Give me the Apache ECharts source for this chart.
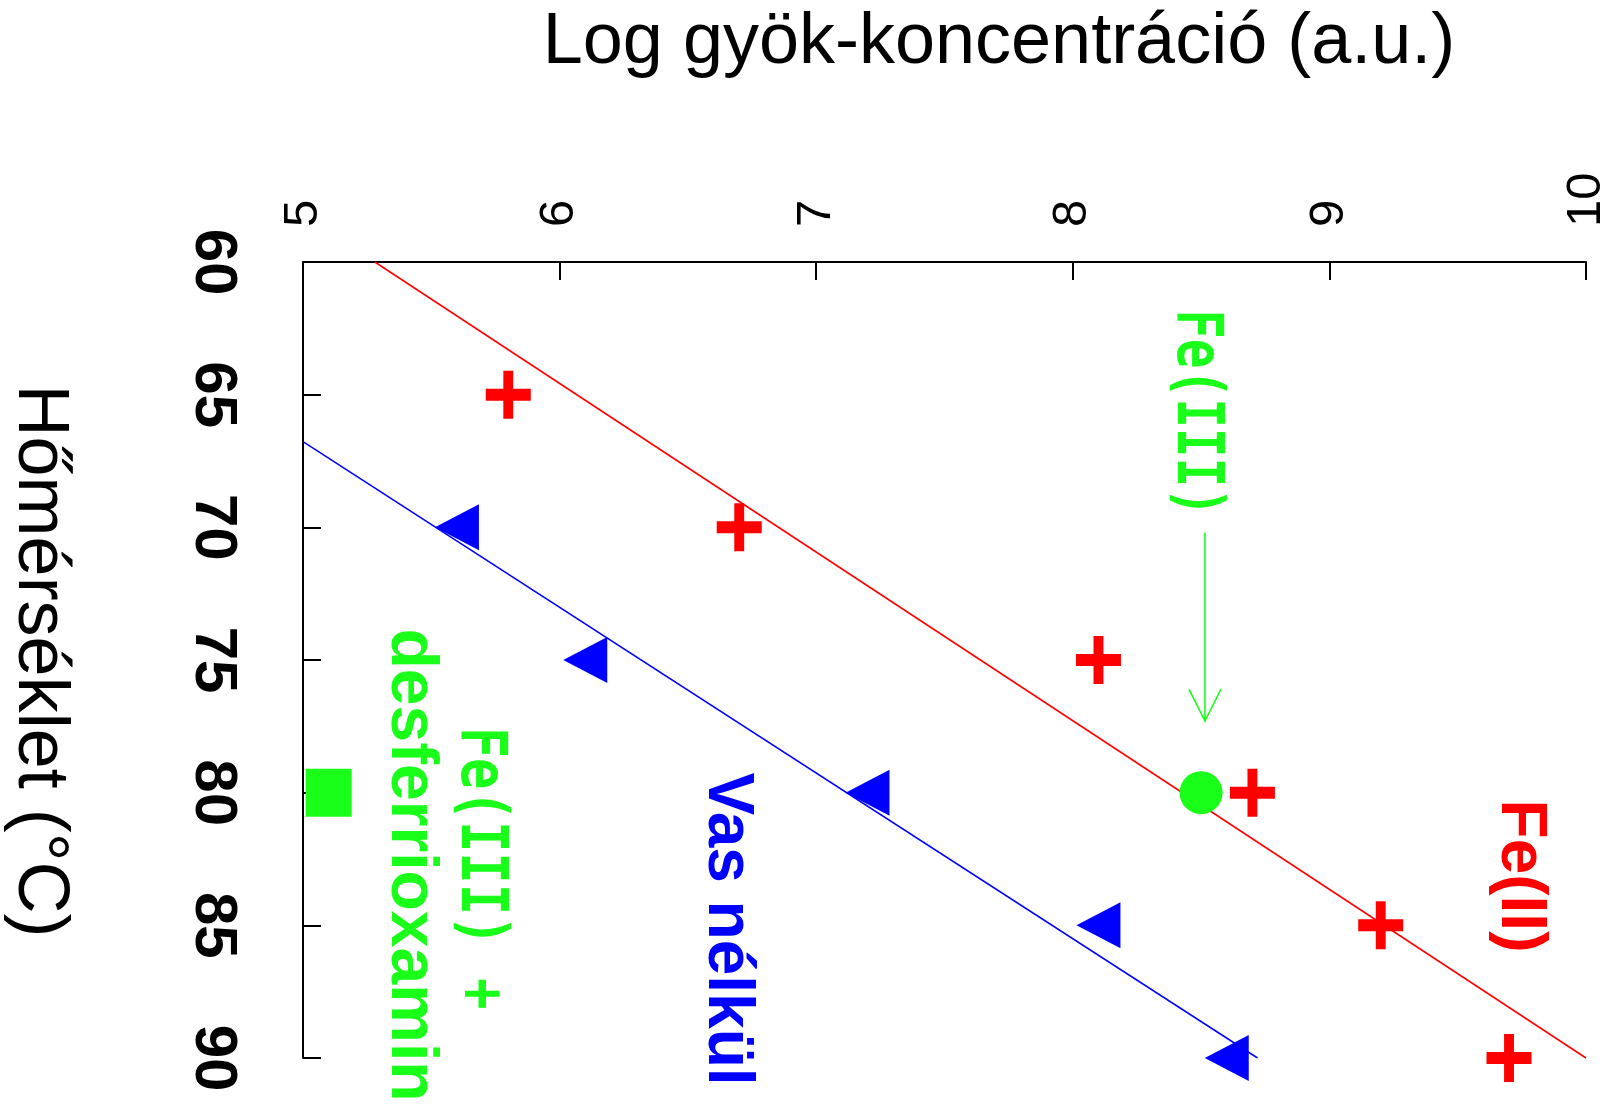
<!DOCTYPE html>
<html>
<head>
<meta charset="utf-8">
<script src="https://cdn.jsdelivr.net/npm/echarts@6/dist/echarts.min.js"></script>
<style>
html,body{margin:0;padding:0;background:#ffffff;}
#c{width:1611px;height:1113px;}
</style>
</head>
<body>
<div id="c"></div>
<script>
// ---- data ----
const logTicks = [5, 6, 7, 8, 9, 10];                 // top axis: Log gyök-koncentráció
const tempTicks = [60, 65, 70, 75, 80, 85, 90];       // left axis: Hőmérséklet (°C)

const fe2Temp = [65, 70, 75, 80, 85, 90];             // Fe(II) points (red crosses)
const fe2Log  = [5.80, 6.70, 8.10, 8.70, 9.20, 9.70];

const vasTemp = [70, 75, 80, 85, 90];                 // Vas nélkül (blue triangles)
const vasLog  = [5.60, 6.10, 7.20, 8.10, 8.60];

const fe3Temp = [80];                                 // Fe(III) (green circle)
const fe3Log  = [8.50];

const desTemp = [80];                                 // Fe(III) + desferrioxamin (green square)
const desLog  = [5.10];

const fe2FitTemp = [60, 90];                          // red fit line
const fe2FitLog  = [5.28, 10.0];

const vasFitTemp = [66.77, 90];                       // blue fit line
const vasFitLog  = [5.0, 8.72];

const arrowTemp = [70.2, 77.3];                       // annotation arrow for Fe(III)
const arrowLog  = [8.515, 8.515];

// ---- helpers ----
const zip = (xs, ys) => xs.map((x, i) => [x, ys[i]]);
const RED = '#ff0000', BLUE = '#0000ff', GREEN = '#19ff19';
const plusPath = 'path://M39,0H61V37.5H100V62.5H61V100H39V62.5H0V37.5H39Z';
const ROT = -Math.PI / 2;

const chart = echarts.init(document.getElementById('c'), null, {renderer: 'canvas'});

const option = {
  animation: false,
  backgroundColor: '#ffffff',
  grid: {left: 303, top: 262, width: 1283, height: 796, containLabel: false},
  xAxis: {
    type: 'value',
    position: 'top',
    min: logTicks[0],
    max: logTicks[logTicks.length - 1],
    interval: logTicks[1] - logTicks[0],
    axisLine: {show: true, onZero: false, lineStyle: {color: '#000', width: 2}},
    axisTick: {show: true, inside: true, length: 18, lineStyle: {color: '#000', width: 2}},
    axisLabel: {
      show: true, rotate: -90, margin: 35, padding: [14, 0, 0, 0],
      fontSize: 49, fontFamily: 'Liberation Sans', color: '#000',
      showMinLabel: true, showMaxLabel: true
    },
    splitLine: {show: false}
  },
  yAxis: {
    type: 'value',
    inverse: true,
    min: tempTicks[0],
    max: tempTicks[tempTicks.length - 1],
    interval: tempTicks[1] - tempTicks[0],
    axisLine: {show: true, onZero: false, lineStyle: {color: '#000', width: 2}},
    axisTick: {show: true, inside: true, length: 18, lineStyle: {color: '#000', width: 2}},
    axisLabel: {
      show: true, rotate: -90, margin: 60,
      fontSize: 60, fontWeight: 'bold', fontFamily: 'Liberation Sans', color: '#000',
      showMinLabel: true, showMaxLabel: true
    },
    splitLine: {show: false}
  },
  series: [
    {
      name: 'Fe(II) fit', type: 'line', data: zip(fe2FitLog, fe2FitTemp),
      symbol: 'none', lineStyle: {color: RED, width: 1.5}, z: 2, silent: true
    },
    {
      name: 'Vas nélkül fit', type: 'line', data: zip(vasFitLog, vasFitTemp),
      symbol: 'none', lineStyle: {color: BLUE, width: 1.5}, z: 2, silent: true
    },
    {
      name: 'arrow', type: 'custom', z: 3, silent: true,
      data: [[arrowLog[0], arrowTemp[0], arrowLog[1], arrowTemp[1]]],
      encode: {x: [0, 2], y: [1, 3]},
      renderItem: function (params, api) {
        const p0 = api.coord([api.value(0), api.value(1)]);
        const p1 = api.coord([api.value(2), api.value(3)]);
        const ang = Math.atan2(p1[1] - p0[1], p1[0] - p0[0]);
        const L = 32, W = 16;
        const bx = p1[0] - L * Math.cos(ang), by = p1[1] - L * Math.sin(ang);
        const nx = -Math.sin(ang) * W, ny = Math.cos(ang) * W;
        return {
          type: 'group',
          children: [
            {type: 'line', shape: {x1: p0[0], y1: p0[1], x2: p1[0], y2: p1[1]},
             style: {stroke: GREEN, lineWidth: 1.6}},
            {type: 'polyline', shape: {points: [[bx + nx, by + ny], [p1[0], p1[1]], [bx - nx, by - ny]]},
             style: {stroke: GREEN, lineWidth: 1.6, fill: null}}
          ]
        };
      }
    },
    {
      name: 'Vas nélkül', type: 'scatter', data: zip(vasLog, vasTemp),
      symbol: 'triangle', symbolSize: [46, 44], symbolRotate: 90,
      itemStyle: {color: BLUE, opacity: 1}, z: 4
    },
    {
      name: 'Fe(II)', type: 'scatter', data: zip(fe2Log, fe2Temp),
      symbol: plusPath, symbolSize: [45, 48],
      itemStyle: {color: RED, opacity: 1}, z: 4
    },
    {
      name: 'Fe(III)', type: 'scatter', data: zip(fe3Log, fe3Temp),
      symbol: 'circle', symbolSize: 43,
      itemStyle: {color: GREEN, opacity: 1}, z: 5
    },
    {
      name: 'Fe(III) + desferrioxamin', type: 'scatter', data: zip(desLog, desTemp),
      symbol: 'rect', symbolSize: [46, 48],
      itemStyle: {color: GREEN, opacity: 1}, z: 4
    }
  ],
  graphic: [
    {type: 'text', x: 999, y: 43, silent: true,
     style: {text: 'Log gyök-koncentráció (a.u.)', fontSize: 72, fontFamily: 'Liberation Sans',
             fill: '#000', align: 'center', verticalAlign: 'middle'}},
    {type: 'text', x: 39, y: 661, rotation: ROT, silent: true,
     style: {text: 'Hőmérséklet (°C)', fontSize: 72, fontFamily: 'Liberation Sans',
             fill: '#000', align: 'center', verticalAlign: 'middle'}},
    {type: 'text', x: 1520, y: 876, rotation: ROT, silent: true,
     style: {text: 'Fe(II)', fontSize: 64, fontWeight: 'bold', fontFamily: 'Liberation Sans',
             fill: RED, align: 'center', verticalAlign: 'middle'}},
    {type: 'text', x: 727, y: 929, rotation: ROT, silent: true,
     style: {text: 'Vas nélkül', fontSize: 64, fontWeight: 'bold', fontFamily: 'Liberation Sans',
             fill: BLUE, align: 'center', verticalAlign: 'middle'}},
    {type: 'text', x: 1195, y: 413, rotation: ROT, scaleX: 0.77, silent: true,
     style: {text: 'Fe(III)', fontSize: 64, fontWeight: 'bold', fontFamily: 'DejaVu Sans Mono',
             fill: GREEN, align: 'center', verticalAlign: 'middle'}},
    {type: 'text', x: 479, y: 868, rotation: ROT, scaleX: 0.815, silent: true,
     style: {text: 'Fe(III) +', fontSize: 64, fontWeight: 'bold', fontFamily: 'DejaVu Sans Mono',
             fill: GREEN, align: 'center', verticalAlign: 'middle'}},
    {type: 'text', x: 410, y: 865, rotation: ROT, silent: true,
     style: {text: 'desferrioxamin', fontSize: 66, fontWeight: 'bold', fontFamily: 'Liberation Sans',
             fill: GREEN, align: 'center', verticalAlign: 'middle'}}
  ]
};

chart.setOption(option);
</script>
</body>
</html>
